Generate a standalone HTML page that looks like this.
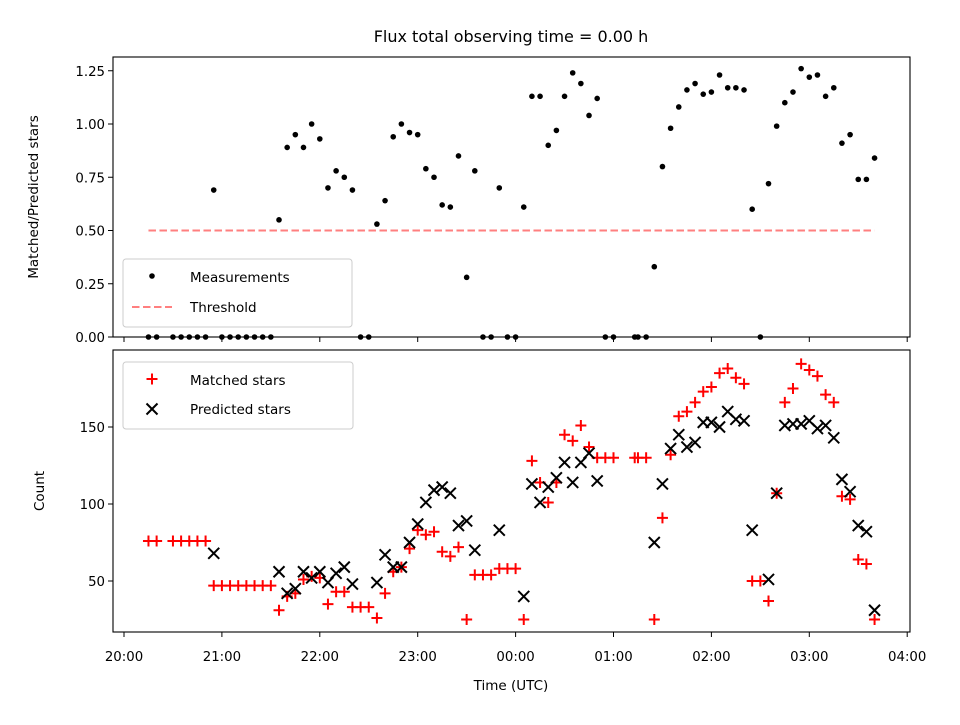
<!DOCTYPE html>
<html><head><meta charset="utf-8"><style>
body{margin:0;background:#fff;width:960px;height:720px;overflow:hidden}
svg{font-family:"DejaVu Sans","Liberation Sans",sans-serif}
</style></head><body>
<svg id="chart" width="960" height="720" viewBox="0 0 960 720" xmlns="http://www.w3.org/2000/svg">
<rect width="960" height="720" fill="#fff"/>
<text x="511" y="42" font-size="16" text-anchor="middle">Flux total observing time = 0.00 h</text>
<g id="topPanel"></g><g id="botPanel"></g>
</svg>
<script>
const times=[15,20,30,35,40,45,50,55,60,65,70,75,80,85,90,95,100,105,110,115,120,125,130,135,140,145,150,155,160,165,170,175,180,185,190,195,200,205,210,215,220,225,230,235,240,245,250,255,260,265,270,275,280,285,290,295,300,313,315,320,325,330,335,340,345,350,355,360,365,370,375,380,385,390,395,400,405,410,415,420,425,430,435,440,445,450,455,460];
const ratio=[0,0,0,0,0,0,0,0.69,0,0,0,0,0,0,0,0.55,0.89,0.95,0.89,1.00,0.93,0.70,0.78,0.75,0.69,0,0,0.53,0.64,0.94,1.00,0.96,0.95,0.79,0.75,0.62,0.61,0.85,0.28,0.78,0,0,0.70,0,0,0.61,1.13,1.13,0.90,0.97,1.13,1.24,1.19,1.04,1.12,0,0,0,0,0,0.33,0.80,0.98,1.08,1.16,1.19,1.14,1.15,1.23,1.17,1.17,1.16,0.60,0,0.72,0.99,1.10,1.15,1.26,1.22,1.23,1.13,1.17,0.91,0.95,0.74,0.74,0.84];
const matched=[76,76,76,76,76,76,76,47,47,47,47,47,47,47,47,31,40,42,51,53,52,35,43,43,33,33,33,26,42,56,59,71,83,80,82,69,66,72,25,54,54,54,58,58,58,25,128,114,101,114,145,141,151,137,130,130,130,130,130,130,25,91,132,157,160,166,173,176,185,188,182,178,50,50,37,107,166,175,191,187,183,171,166,105,103,64,61,25];
const predicted=[null,null,null,null,null,null,null,68,null,null,null,null,null,null,null,56,42,45,56,52,56,49,55,59,48,null,null,49,67,59,59,75,87,101,109,111,107,86,89,70,null,null,83,null,null,40,113,101,111,117,127,114,127,133,115,null,null,null,null,null,75,113,136,145,137,140,153,153,150,160,155,154,83,null,51,107,151,152,152,154,149,151,143,116,108,86,82,31];
const threshold=0.5;
const xTickLabels=["20:00","21:00","22:00","23:00","00:00","01:00","02:00","03:00","04:00"];
const ratioTicks=[0,0.25,0.5,0.75,1.0,1.25];
const countTicks=[50,100,150];

const NS="http://www.w3.org/2000/svg";
const L=113,R=910;
const xS=m=>124+(m/60)*97.9;
const yR=v=>337-v*213;
const yC=v=>581-(v-50)*1.54;
function el(tag,attrs,parent){const e=document.createElementNS(NS,tag);for(const k in attrs)e.setAttribute(k,attrs[k]);parent.appendChild(e);return e;}
const gTop=document.getElementById('topPanel'),gBot=document.getElementById('botPanel');

const th=el('line',{x1:xS(times[0]),x2:xS(times[times.length-1]),y1:yR(threshold),y2:yR(threshold),stroke:'#ff7f7f','stroke-width':2,'stroke-dasharray':'7.5,3.5'},gTop);


times.forEach((t,i)=>{
 const c=el('circle',{cx:xS(t),cy:yR(ratio[i]),r:2.8,fill:'#000'},gTop);
 
 
});
times.forEach((t,i)=>{
 const x=xS(t),y=yC(matched[i]);
 const p=el('path',{d:`M${x-5.5} ${y}H${x+5.5}M${x} ${y-5.5}V${y+5.5}`,stroke:'#f00','stroke-width':2,fill:'none'},gBot);
 
 
});
times.forEach((t,i)=>{
 if(predicted[i]===null)return;
 const x=xS(t),y=yC(predicted[i]);
 const p=el('path',{d:`M${x-5.5} ${y-5.5}L${x+5.5} ${y+5.5}M${x-5.5} ${y+5.5}L${x+5.5} ${y-5.5}`,stroke:'#000','stroke-width':2,fill:'none'},gBot);
 
 
});
[[57,337,gTop,'top-axes-frame'],[350,632,gBot,'bottom-axes-frame']].forEach(([t,b,g,n])=>{
 const r=el('rect',{x:L,y:t,width:R-L,height:b-t,fill:'none',stroke:'#000','stroke-width':1.1},g);
 
 
});
xTickLabels.forEach((lab,i)=>{
 const x=xS(i*60);
 el('line',{x1:x,x2:x,y1:337,y2:342,stroke:'#000'},gTop);
 el('line',{x1:x,x2:x,y1:632,y2:637,stroke:'#000'},gBot);
 const tx=el('text',{x:x,y:661,'font-size':13.3,'text-anchor':'middle'},gBot);
 tx.textContent=lab;
 
 
});
ratioTicks.forEach(v=>{
 const y=yR(v);
 el('line',{x1:L-5,x2:L,y1:y,y2:y,stroke:'#000'},gTop);
 const tx=el('text',{x:L-8,y:y+5,'font-size':13.3,'text-anchor':'end'},gTop);
 tx.textContent=v.toFixed(2);
 
 
});
countTicks.forEach(v=>{
 const y=yC(v);
 el('line',{x1:L-5,x2:L,y1:y,y2:y,stroke:'#000'},gBot);
 const tx=el('text',{x:L-8,y:y+5,'font-size':13.3,'text-anchor':'end'},gBot);
 tx.textContent=v;
 
 
});
</script>
<svg style="position:absolute;left:0;top:0" width="960" height="720">
<text transform="translate(38,197) rotate(-90)" font-size="13.5" text-anchor="middle">Matched/Predicted stars</text>
<text transform="translate(44,491) rotate(-90)" font-size="13.5" text-anchor="middle">Count</text>
<text x="511" y="690" font-size="13.5" text-anchor="middle">Time (UTC)</text>
<g>
<rect x="123" y="259" width="229" height="68" rx="3" fill="#fff" fill-opacity="0.8" stroke="#ccc"/>
<circle cx="152" cy="276" r="2.8" fill="#000"/>
<text x="190" y="282" font-size="13.5">Measurements</text>
<line x1="132" x2="172" y1="307" y2="307" stroke="#ff7f7f" stroke-width="2" stroke-dasharray="7.5,3.5"/>
<text x="190" y="312" font-size="13.5">Threshold</text>
</g>
<g>
<rect x="123" y="362" width="230" height="67" rx="3" fill="#fff" fill-opacity="0.8" stroke="#ccc"/>
<path d="M146.5 379H157.5M152 373.5V384.5" stroke="#f00" stroke-width="2"/>
<text x="190" y="385" font-size="13.5">Matched stars</text>
<path d="M146.5 403.5L157.5 414.5M146.5 414.5L157.5 403.5" stroke="#000" stroke-width="2"/>
<text x="190" y="414" font-size="13.5">Predicted stars</text>
</g>
</svg>
</body></html>
